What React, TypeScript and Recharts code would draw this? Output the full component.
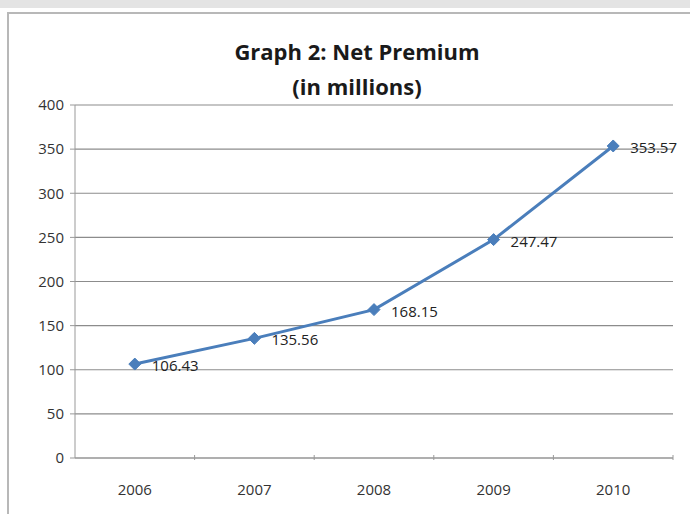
import React from "react";
import { LineChart, Line, XAxis, YAxis, CartesianGrid, LabelList } from "recharts";

const years = ["2006", "2007", "2008", "2009", "2010"];
const netPremium = [106.43, 135.56, 168.15, 247.47, 353.57];
const yTicks = [0, 50, 100, 150, 200, 250, 300, 350, 400];

const data = years.map((y, i) => ({ year: y, value: netPremium[i] }));

const W = 690;
const H = 514;
const M = { top: 105, right: 17, bottom: 26, left: 30 };
const Y_W = 45;
const HALF_BAND = (W - M.left - Y_W - M.right) / years.length / 2;
const FONT = "'Open Sans', 'Liberation Sans', sans-serif";

const XTick = (props: any) => {
  const { x, y, payload } = props;
  return (
    <g>
      <line x1={x + HALF_BAND} x2={x + HALF_BAND} y1={y - 5} y2={y} stroke="#999" strokeWidth={1} />
      <text x={x} y={y + 35} textAnchor="middle" fontSize={15} fill="#333" fontFamily={FONT}>
        {payload.value}
      </text>
    </g>
  );
};

const Diamond = (props: any) => {
  const { cx, cy } = props;
  if (cx == null || cy == null) return null;
  const r = 6;
  return (
    <path
      d={`M${cx},${cy - r}L${cx + r},${cy}L${cx},${cy + r}L${cx - r},${cy}Z`}
      fill="#4A7EBB"
      stroke="#4A7EBB"
    />
  );
};

const DataLabel = (props: any) => {
  const { x, y, value } = props;
  return (
    <text x={x + 17} y={y + 7} fontSize={15} fill="#222" fontFamily={FONT}>
      {Number(value).toFixed(2)}
    </text>
  );
};

export default function App() {
  return (
    <div style={{ position: "absolute", left: 0, top: 0, width: W, height: H, overflow: "hidden", background: "#fff" }}>
      <div style={{ position: "absolute", left: 0, top: 0, width: W, height: 8, background: "#e4e4e4" }} />
      <div
        style={{
          position: "absolute",
          left: 7,
          top: 12,
          width: 720,
          height: 540,
          border: "2px solid #b8b8b8",
          boxSizing: "border-box",
        }}
      />
      <div
        style={{
          position: "absolute",
          left: 0,
          width: W,
          top: 34,
          textAlign: "center",
          fontFamily: FONT,
          fontWeight: 700,
          fontSize: 22,
          lineHeight: "35px",
          color: "#1a1a1a",
          paddingLeft: 24,
          boxSizing: "border-box",
        }}
      >
        <div>Graph 2: Net Premium</div>
        <div>(in millions)</div>
      </div>
      <div style={{ position: "absolute", left: 0, top: 0 }}>
        <LineChart width={W} height={H} data={data} margin={M}>
          <CartesianGrid vertical={false} stroke="#8c8c8c" strokeWidth={1.2} />
          <XAxis
            dataKey="year"
            scale="band"
            stroke="#999"
            tickLine={false}
            tickSize={0}
            tick={<XTick />}
            interval={0}
            height={30}
          />
          <YAxis
            domain={[0, 400]}
            ticks={yTicks}
            width={Y_W}
            stroke="#999"
            tickSize={5}
            tickMargin={6}
            tick={{ fontSize: 15, fill: "#333", fontFamily: FONT }}
            interval={0}
          />
          <Line
            type="linear"
            dataKey="value"
            stroke="#4A7EBB"
            strokeWidth={3}
            dot={<Diamond />}
            activeDot={false}
            isAnimationActive={false}
          >
            <LabelList dataKey="value" content={<DataLabel />} />
          </Line>
        </LineChart>
      </div>
    </div>
  );
}
